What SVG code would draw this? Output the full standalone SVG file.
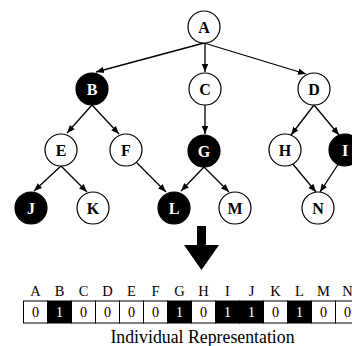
<svg xmlns="http://www.w3.org/2000/svg" width="352" height="346" viewBox="0 0 352 346">
<style>
text{font-family:"Liberation Serif","Times New Roman",Times,"DejaVu Serif",serif}
.n circle{fill:#fff;stroke:#000;stroke-width:1.2}
.n.b circle{fill:#000}
.n text{font-weight:bold;font-size:16px;text-anchor:middle;fill:#000}
.n.b text{fill:#fff}
#edges line{stroke:#000;stroke-width:1.3;marker-end:url(#ah)}
.lbl{font-size:14.5px;text-anchor:middle;fill:#000}
.cell{fill:#fff;stroke:#000;stroke-width:1}
.cell.b{fill:#000}
.dg{font-size:14px;text-anchor:middle;fill:#000}
.dg.w{fill:#fff}
.cap{font-size:17.8px;text-anchor:middle;fill:#000}
</style>
<defs>
<marker id="ah" markerUnits="userSpaceOnUse" markerWidth="8" markerHeight="8" viewBox="0 0 8 8" refX="8" refY="4" orient="auto">
<path d="M0,0.8 L8,4 L0,7.2 Z" fill="#000"/>
</marker>
</defs>
<g id="edges">
<line x1="204" y1="43" x2="96" y2="72"/>
<line x1="205" y1="43" x2="205" y2="72"/>
<line x1="204" y1="43" x2="306" y2="74"/>
<line x1="92" y1="105" x2="67" y2="133"/>
<line x1="92" y1="105" x2="119" y2="134"/>
<line x1="205" y1="105" x2="205" y2="134"/>
<line x1="314" y1="105" x2="291" y2="135"/>
<line x1="314" y1="105" x2="339" y2="135"/>
<line x1="61" y1="166" x2="34" y2="191"/>
<line x1="61" y1="166" x2="87" y2="192"/>
<line x1="136" y1="162" x2="166" y2="192"/>
<line x1="204" y1="167" x2="181" y2="191"/>
<line x1="204" y1="167" x2="229" y2="192"/>
<line x1="292" y1="163" x2="316" y2="192"/>
<line x1="339" y1="163" x2="320" y2="192"/>
</g>
<g id="A" class="n"><circle cx="204" cy="27" r="16"/><text x="204" y="32.5">A</text></g>
<g id="B" class="n b"><circle cx="92" cy="89" r="16"/><text x="92" y="94.5">B</text></g>
<g id="C" class="n"><circle cx="205" cy="89" r="16"/><text x="205" y="94.5">C</text></g>
<g id="D" class="n"><circle cx="314" cy="89" r="16"/><text x="314" y="94.5">D</text></g>
<g id="E" class="n"><circle cx="61" cy="150" r="16"/><text x="61" y="155.5">E</text></g>
<g id="F" class="n"><circle cx="126" cy="150" r="16"/><text x="126" y="155.5">F</text></g>
<g id="G" class="n b"><circle cx="204" cy="151" r="16"/><text x="204" y="156.5">G</text></g>
<g id="H" class="n"><circle cx="285" cy="150" r="16"/><text x="285" y="155.5">H</text></g>
<g id="I" class="n b"><circle cx="345" cy="150" r="16"/><text x="345" y="155.5">I</text></g>
<g id="J" class="n b"><circle cx="31" cy="208" r="16"/><text x="31" y="213.5">J</text></g>
<g id="K" class="n"><circle cx="93" cy="208" r="16"/><text x="93" y="213.5">K</text></g>
<g id="L" class="n b"><circle cx="174" cy="208" r="16"/><text x="174" y="213.5">L</text></g>
<g id="M" class="n"><circle cx="235" cy="208" r="16"/><text x="235" y="213.5">M</text></g>
<g id="N" class="n"><circle cx="318" cy="208" r="16"/><text x="318" y="213.5">N</text></g>
<polygon id="bigarrow" points="197,226 206,226 206,245 219,245 201.5,270 184,245 197,245" fill="#000"/>
<g id="table">
<text class="lbl" x="35.5" y="295.5">A</text>
<text class="lbl" x="59.5" y="295.5">B</text>
<text class="lbl" x="83.5" y="295.5">C</text>
<text class="lbl" x="107.5" y="295.5">D</text>
<text class="lbl" x="131.5" y="295.5">E</text>
<text class="lbl" x="155.5" y="295.5">F</text>
<text class="lbl" x="179.5" y="295.5">G</text>
<text class="lbl" x="203.5" y="295.5">H</text>
<text class="lbl" x="227.5" y="295.5">I</text>
<text class="lbl" x="251.5" y="295.5">J</text>
<text class="lbl" x="275.5" y="295.5">K</text>
<text class="lbl" x="299.5" y="295.5">L</text>
<text class="lbl" x="323.5" y="295.5">M</text>
<text class="lbl" x="347.5" y="295.5">N</text>
<rect class="cell" x="23.5" y="301" width="24" height="22"/>
<rect class="cell b" x="47.5" y="301" width="24" height="22"/>
<rect class="cell" x="71.5" y="301" width="24" height="22"/>
<rect class="cell" x="95.5" y="301" width="24" height="22"/>
<rect class="cell" x="119.5" y="301" width="24" height="22"/>
<rect class="cell" x="143.5" y="301" width="24" height="22"/>
<rect class="cell b" x="167.5" y="301" width="24" height="22"/>
<rect class="cell" x="191.5" y="301" width="24" height="22"/>
<rect class="cell b" x="215.5" y="301" width="24" height="22"/>
<rect class="cell b" x="239.5" y="301" width="24" height="22"/>
<rect class="cell" x="263.5" y="301" width="24" height="22"/>
<rect class="cell b" x="287.5" y="301" width="24" height="22"/>
<rect class="cell" x="311.5" y="301" width="24" height="22"/>
<rect class="cell" x="335.5" y="301" width="24" height="22"/>
<text class="dg" x="35.5" y="317">0</text>
<text class="dg w" x="59.5" y="317">1</text>
<text class="dg" x="83.5" y="317">0</text>
<text class="dg" x="107.5" y="317">0</text>
<text class="dg" x="131.5" y="317">0</text>
<text class="dg" x="155.5" y="317">0</text>
<text class="dg w" x="179.5" y="317">1</text>
<text class="dg" x="203.5" y="317">0</text>
<text class="dg w" x="227.5" y="317">1</text>
<text class="dg w" x="251.5" y="317">1</text>
<text class="dg" x="275.5" y="317">0</text>
<text class="dg w" x="299.5" y="317">1</text>
<text class="dg" x="323.5" y="317">0</text>
<text class="dg" x="347.5" y="317">0</text>
<text class="cap" x="202.5" y="343">Individual Representation</text>
</g>
</svg>
